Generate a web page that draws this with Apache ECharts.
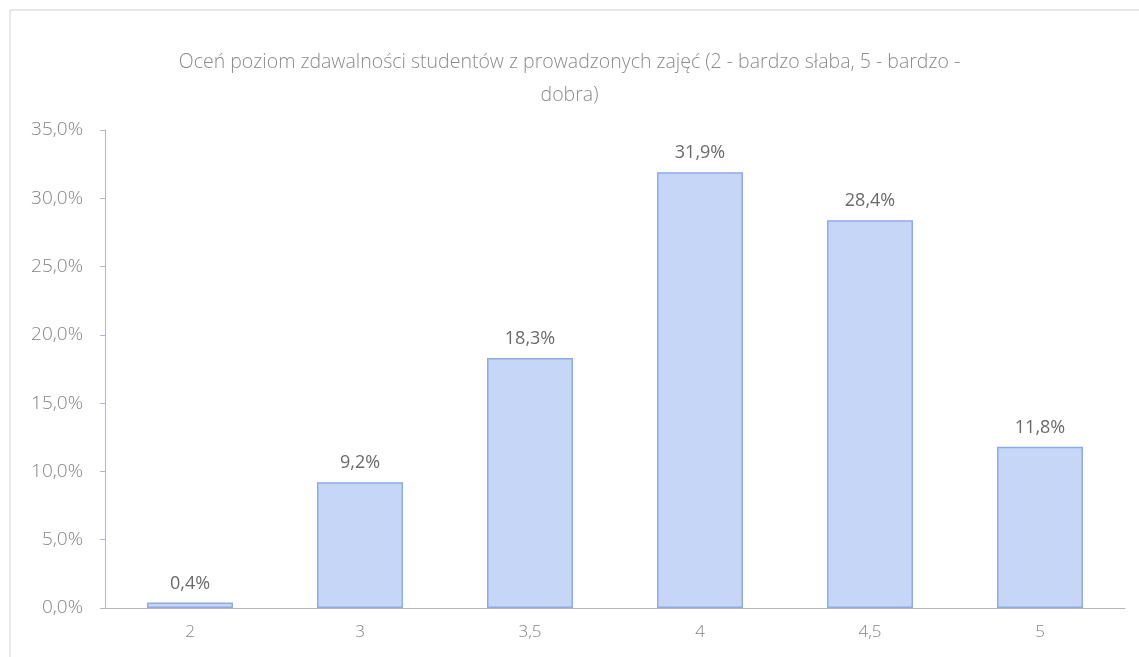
<!DOCTYPE html>
<html>
<head>
<meta charset="utf-8">
<script src="https://cdn.jsdelivr.net/npm/echarts@6/dist/echarts.min.js"></script>
<style>
  html, body { margin: 0; padding: 0; background: #fff; }
  #chart { width: 1139px; height: 657px; }
</style>
</head>
<body>
<div id="chart"></div>
<script>
// ocena zdawalności
var categories = ['2', '3', '3,5', '4', '4,5', '5'];
var values = [0.4, 9.2, 18.3, 31.9, 28.4, 11.8];
var titleText = 'Oceń poziom zdawalności studentów z prowadzonych zajęć (2 - bardzo słaba, 5 - bardzo -\ndobra)';

var fmt = function (v) {
    return v.toFixed(1).replace('.', ',') + '%';
};

var chart = echarts.init(document.getElementById('chart'));
var option = {
    backgroundColor: '#fff',
    animation: false,
    textStyle: {
        fontFamily: 'Open Sans'
    },
    title: {
        text: titleText,
        left: 'center',
        top: 41,
        textStyle: {
            color: '#8c8c8c',
            fontSize: 19.5,
            fontWeight: 300,
            lineHeight: 33,
            align: 'center'
        }
    },
    graphic: [{
        type: 'rect',
        shape: { x: 10, y: 10, width: 1200, height: 700 },
        style: { fill: 'none', stroke: '#d2d2d2', lineWidth: 1 }
    }],
    grid: {
        left: 105,
        right: 14,
        top: 130,
        bottom: 49
    },
    xAxis: {
        type: 'category',
        data: categories,
        axisLine: { lineStyle: { color: '#b5b5c0' } },
        axisTick: { show: false },
        axisLabel: {
            color: '#858585',
            fontSize: 17,
            fontWeight: 300,
            margin: 16
        }
    },
    yAxis: {
        type: 'value',
        min: 0,
        max: 35,
        interval: 5,
        axisLine: { show: true, lineStyle: { color: '#b0b6d6' } },
        axisTick: { show: true, inside: false, length: 5, lineStyle: { color: '#b0b6d6' } },
        splitLine: { show: false },
        axisLabel: {
            color: '#858585',
            fontSize: 19,
            fontWeight: 300,
            margin: 22,
            formatter: fmt
        }
    },
    series: [{
        type: 'bar',
        data: values,
        barWidth: 86,
        itemStyle: {
            color: '#c6d6f6',
            borderColor: '#8eabe9',
            borderWidth: 1.5
        },
        label: {
            show: true,
            position: 'top',
            distance: 10,
            color: '#6a6a6a',
            fontSize: 18,
            formatter: function (p) { return fmt(p.value); }
        }
    }]
};
option && chart.setOption(option);
</script>
</body>
</html>
